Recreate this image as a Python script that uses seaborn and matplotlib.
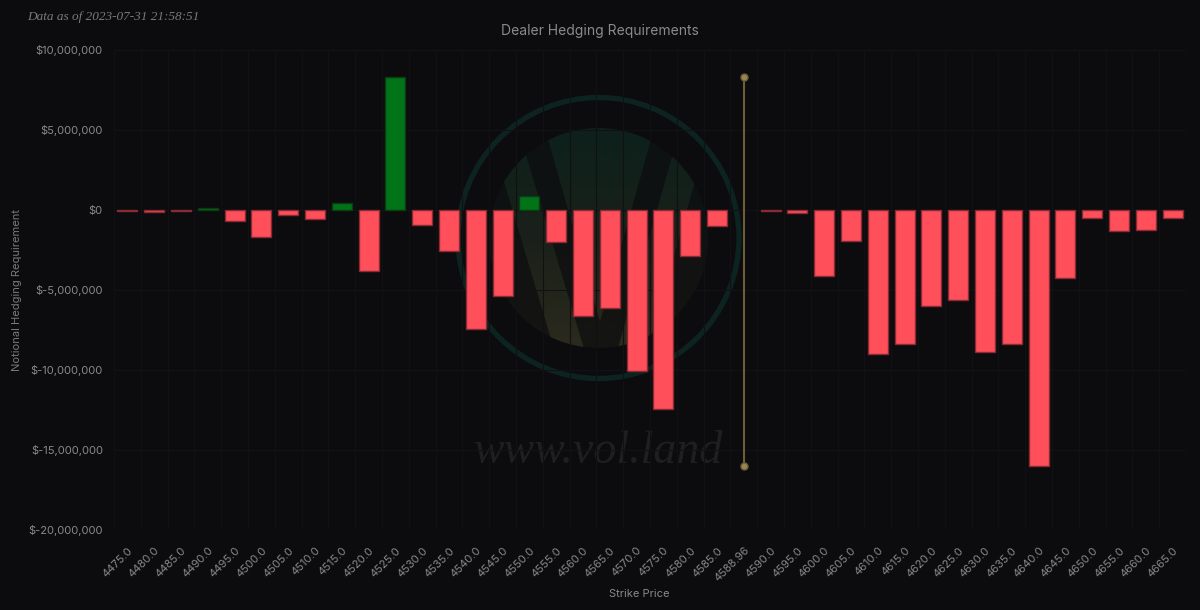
import numpy as np
import pandas as pd
import matplotlib
matplotlib.use('Agg')
import matplotlib.pyplot as plt
import seaborn as sns
from matplotlib.patches import Circle, Annulus, PathPatch
from matplotlib.path import Path
from matplotlib.colors import LinearSegmentedColormap
from matplotlib.ticker import FixedLocator

# Strikes and dealer hedging notional (millions of USD)
strikes = ['4475.0', '4480.0', '4485.0', '4490.0', '4495.0', '4500.0', '4505.0', '4510.0',
           '4515.0', '4520.0', '4525.0', '4530.0', '4535.0', '4540.0', '4545.0', '4550.0',
           '4555.0', '4560.0', '4565.0', '4570.0', '4575.0', '4580.0', '4585.0', '4588.96',
           '4590.0', '4595.0', '4600.0', '4605.0', '4610.0', '4615.0', '4620.0', '4625.0',
           '4630.0', '4635.0', '4640.0', '4645.0', '4650.0', '4655.0', '4660.0', '4665.0']
hedging_m = [-0.06, -0.15, -0.06, 0.10, -0.67, -1.70, -0.33, -0.56,
             0.45, -3.83, 8.33, -0.96, -2.56, -7.45, -5.35, 0.87,
             -1.97, -6.63, -6.10, -10.04, -12.45, -2.85, -0.97, np.nan,
             -0.07, -0.20, -4.13, -1.95, -8.97, -8.40, -6.00, -5.65,
             -8.90, -8.40, -16.00, -4.23, -0.53, -1.32, -1.23, -0.48]
spot_price = '4588.96'
yticks = [-20e6, -15e6, -10e6, -5e6, 0, 5e6, 10e6]
timestamp = 'Data as of 2023-07-31 21:58:51'

BG = '#0c0c0e'
RED, RED_EDGE = '#ff4f5b', '#8a2a33'
GREEN, GREEN_EDGE = '#007417', '#0b3a13'
TXT = '#8a8a8a'

sns.set_theme(style='dark')
plt.rcParams['font.family'] = ['Inter', 'DejaVu Sans']

df = pd.DataFrame({'Strike': strikes, 'Value': np.array(hedging_m) * 1e6})
colors = {s: (GREEN if v > 0 else RED) for s, v in zip(df['Strike'], df['Value'])}

fig = plt.figure(figsize=(12, 6.1), dpi=100, facecolor=BG)

# background watermark (logo), drawn in pixel coordinates
bg = fig.add_axes([0, 0, 1, 1], zorder=0)
cx, cy, r = 598.5, 238, 110
grad = np.linspace(0, 1, 256).reshape(-1, 1)
cmap = LinearSegmentedColormap.from_list('wm', ['#0d201c', '#1a2019', '#2b2a1e'])
ext = [cx - r, cx + r, cy + r, cy - r]

# faint full disc
disc = Circle((cx, cy), r, transform=bg.transData, facecolor='none', edgecolor='none')
bg.add_patch(disc)
im0 = bg.imshow(grad, cmap=cmap, extent=ext, origin='upper', aspect='auto', alpha=0.3, zorder=1)
im0.set_clip_path(disc)

# light parts of the logo: two strokes and the middle triangle
pieces = [[(479.6, 100), (509.6, 100), (599.3, 400), (569.3, 400)],
          [(536.8, 100), (662.1, 100), (600.0, 321.7)],
          [(688.1, 100), (718.1, 100), (633.2, 400), (603.2, 400)]]
verts, codes = [], []
for poly in pieces:
    verts += poly + [poly[0]]
    codes += [Path.MOVETO] + [Path.LINETO] * (len(poly) - 1) + [Path.CLOSEPOLY]
logo = PathPatch(Path(verts, codes), transform=bg.transData, facecolor='none', edgecolor='none')
bg.add_patch(logo)
im = bg.imshow(grad, cmap=cmap, extent=ext, origin='upper', aspect='auto', zorder=2)
im.set_clip_path(logo)
bg.add_patch(Annulus((cx, cy), 170, 60, facecolor=BG, edgecolor='none', zorder=3))
bg.add_patch(Circle((cx, cy), 140.5, facecolor='none', edgecolor='#0c231f', lw=3.8, zorder=4))
bg.text(599, 452, 'www.vol.land', fontsize=33, color='#1f1f21', style='italic',
        family=['Liberation Serif', 'DejaVu Serif'], ha='center', va='center', zorder=4)
bg.set_xlim(0, 1200)
bg.set_ylim(610, 0)
bg.axis('off')

# main chart
ax = fig.add_axes([114 / 1200, 1 - 530 / 610, 1072 / 1200, 480 / 610], zorder=1)
ax.patch.set_alpha(0)
sns.barplot(data=df, x='Strike', y='Value', hue='Strike', palette=colors, order=strikes,
            legend=False, width=0.75, saturation=1, ax=ax)
for p in ax.patches:
    h = p.get_height()
    if np.isnan(h):
        continue
    p.set_edgecolor(GREEN_EDGE if h > 0 else RED_EDGE)
    p.set_linewidth(1)

# spot price marker line
spot_x = strikes.index(spot_price)
vals = df['Value'].dropna()
ax.plot([spot_x, spot_x], [vals.min(), vals.max()], color='#6e5e38', lw=1.5, zorder=3,
        marker='o', markersize=5, markerfacecolor='#9a8452', markeredgecolor='#6e5e38')

ax.set_ylim(-20e6, 10e6)
ax.set_xlim(-0.5, len(strikes) - 0.5)
ax.set_yticks(yticks)
ax.set_yticklabels([f'${v:,.0f}' for v in yticks])
ax.xaxis.set_minor_locator(FixedLocator(np.arange(-0.5, len(strikes), 1)))
ax.grid(False)
ax.grid(True, axis='y', which='major', color='#121215', lw=0.8)
ax.grid(True, axis='x', which='minor', color='#111114', lw=0.8)
ax.set_axisbelow(True)
for s in ax.spines.values():
    s.set_visible(False)
ax.tick_params(axis='both', which='both', length=0, colors=TXT, labelsize=8)
ax.tick_params(axis='y', pad=8)
ax.tick_params(axis='x', pad=11)
for lbl in ax.get_xticklabels():
    lbl.set_rotation(45)
    lbl.set_ha('right')
    lbl.set_va('top')
    lbl.set_rotation_mode('anchor')

ax.set_xlabel('Strike Price', color=TXT, fontsize=8)
ax.xaxis.set_label_coords((639 - 114) / 1072, -(589 - 530) / 480)
ax.set_ylabel('Notional Hedging Requirement', color='#7a7a7a', fontsize=8)
ax.yaxis.set_label_coords(-(114 - 22) / 1072, 0.5)

fig.text(0.5, 1 - 31 / 610, 'Dealer Hedging Requirements', ha='center', va='center',
         color=TXT, fontsize=10)
fig.text(27 / 1200, 1 - 17 / 610, timestamp, ha='left', va='center', color='#7a7a7a',
         fontsize=9.5, style='italic', family=['Liberation Serif', 'DejaVu Serif'])

fig.savefig('out.png', dpi=100, facecolor=BG)
